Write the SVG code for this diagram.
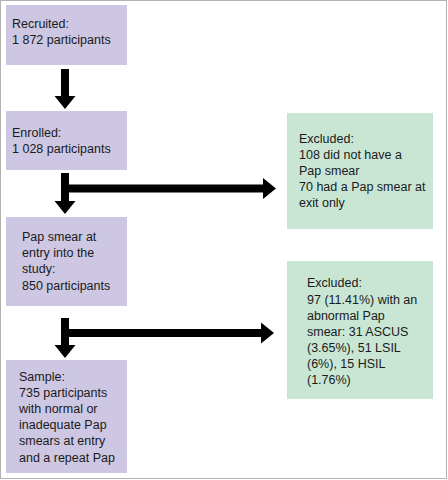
<svg xmlns="http://www.w3.org/2000/svg" width="448" height="480" viewBox="0 0 448 480">
<defs>
<style>
.p{fill:#cdc7e3}
.g{fill:#c9e6d5}
text{font-family:"Liberation Sans",Arial,sans-serif;font-size:12.5px;fill:#1a1a1a}
.c{stroke:#000;stroke-width:8;fill:none}
</style>
<marker id="ah" markerUnits="userSpaceOnUse" markerWidth="14" markerHeight="22" refX="0" refY="10.5" orient="auto" overflow="visible">
<path d="M0,0 L13,10.5 L0,21 Z" fill="#000"/>
</marker>
</defs>
<rect x="0" y="0" width="448" height="480" fill="#fff"/>
<rect x="0.5" y="0.5" width="446" height="478" fill="none" stroke="#b3b3b3" stroke-width="1"/>
<g id="recruited">
<rect class="p" x="6" y="5" width="121" height="60"/>
<text x="12" y="28">Recruited:</text>
<text x="12" y="44">1 872 participants</text>
</g>
<g id="enrolled">
<rect class="p" x="6" y="111" width="121" height="59"/>
<text x="12" y="137">Enrolled:</text>
<text x="12" y="153">1 028 participants</text>
</g>
<g id="papentry">
<rect class="p" x="6" y="217" width="121" height="89"/>
<text x="22" y="241">Pap smear at</text>
<text x="22" y="257">entry into the</text>
<text x="22" y="273">study:</text>
<text x="22" y="290">850 participants</text>
</g>
<g id="sample">
<rect class="p" x="6" y="360" width="121" height="113"/>
<text x="19" y="381">Sample:</text>
<text x="19" y="397">735 participants</text>
<text x="19" y="413">with normal or</text>
<text x="19" y="429">inadequate Pap</text>
<text x="19" y="445">smears at entry</text>
<text x="19" y="462">and a repeat Pap</text>
</g>
<g id="excluded1">
<rect class="g" x="287" y="113" width="146" height="116"/>
<text x="299" y="143">Excluded:</text>
<text x="299" y="159">108 did not have a</text>
<text x="299" y="175">Pap smear</text>
<text x="299" y="191">70 had a Pap smear at</text>
<text x="299" y="207">exit only</text>
</g>
<g id="excluded2">
<rect class="g" x="287" y="261" width="146" height="138"/>
<text x="307" y="287">Excluded:</text>
<text x="307" y="304">97 (11.41%) with an</text>
<text x="307" y="320">abnormal Pap</text>
<text x="307" y="336">smear: 31 ASCUS</text>
<text x="307" y="352">(3.65%), 51 LSIL</text>
<text x="307" y="368">(6%), 15 HSIL</text>
<text x="307" y="384">(1.76%)</text>
</g>
<g id="connectors">
<path class="c" d="M65,69 V96" marker-end="url(#ah)"/>
<path class="c" d="M65,173 V201" marker-end="url(#ah)"/>
<path class="c" d="M61,188.5 H263" marker-end="url(#ah)"/>
<path class="c" d="M65,318 V345" marker-end="url(#ah)"/>
<path class="c" d="M61,333 H261" marker-end="url(#ah)"/>
</g>
</svg>
